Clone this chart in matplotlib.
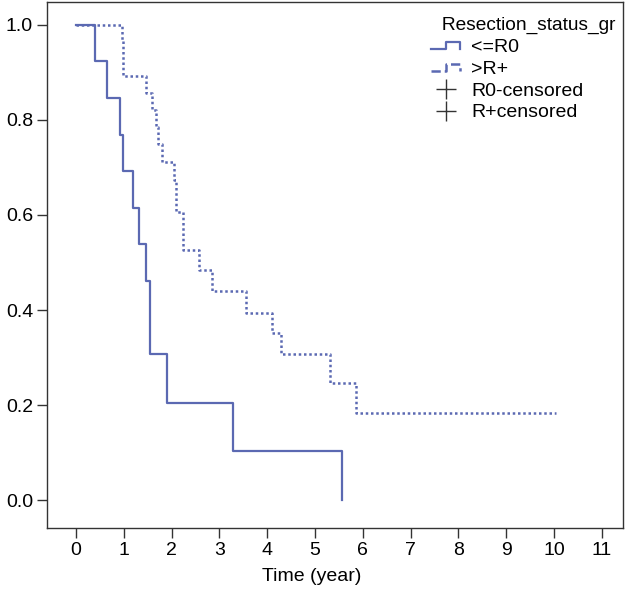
import matplotlib
matplotlib.use("Agg")
import matplotlib.pyplot as plt
from matplotlib.lines import Line2D
from matplotlib.legend_handler import HandlerBase

# Kaplan-Meier steps
t_r0 = [0, 0.40, 0.64, 0.92, 0.98, 1.19, 1.32, 1.46, 1.55, 1.90, 3.29, 5.57]
s_r0 = [1.0, 0.923, 0.846, 0.769, 0.692, 0.615, 0.538, 0.462, 0.308, 0.205, 0.103, 0.0]

t_rp = [0, 0.955, 0.99, 1.46, 1.60, 1.67, 1.72, 1.79, 2.04, 2.10, 2.24, 2.58,
        2.84, 3.55, 4.09, 4.28, 5.31, 5.86, 10.04]
s_rp = [1.0, 0.966, 0.893, 0.857, 0.821, 0.786, 0.75, 0.712, 0.674, 0.607, 0.526,
        0.484, 0.441, 0.394, 0.352, 0.307, 0.246, 0.184, 0.184]

xticks = list(range(0, 12))
yticks = [0.0, 0.2, 0.4, 0.6, 0.8, 1.0]
labels = ["<=R0", ">R+", "R0-censored", "R+censored"]

col = "#5b69b2"
dark = "#333333"
plt.rcParams["font.family"] = ["Liberation Sans", "DejaVu Sans"]
plt.rcParams["font.size"] = 14


class StepHandler(HandlerBase):
    # little step glyph like the R legend
    def create_artists(self, legend, orig, xd, yd, w, h, fs, trans):
        xs = [xd, xd + 0.5 * w, xd + 0.5 * w, xd + w, xd + w]
        ys = [yd + 0.2 * h, yd + 0.2 * h, yd + 0.7 * h, yd + 0.7 * h, yd + 0.2 * h]
        ln = Line2D(xs, ys, color=orig.get_color(), lw=orig.get_linewidth(),
                    linestyle=orig.get_linestyle(), transform=trans)
        return [ln]


fig = plt.figure(figsize=(6.28, 5.93), dpi=100)
ax = fig.add_axes([0.0748, 0.110, 0.917, 0.8866])

l1, = ax.step(t_r0, s_r0, where="post", color=col, lw=1.6)
l2, = ax.step(t_rp, s_rp, where="post", color=col, lw=1.8, linestyle=(0, (1.0, 1.1)))
c1 = Line2D([], [], color=dark, marker="+", markersize=14, linestyle="none", mew=1.0)
c2 = Line2D([], [], color=dark, marker="+", markersize=14, linestyle="none", mew=1.0)

ax.set_xlim(-0.607, 11.44)
ax.set_ylim(-0.058, 1.048)
ax.set_xticks(xticks)
ax.set_yticks(yticks)
ax.set_yticklabels(["%.1f" % v for v in yticks])
ax.tick_params(direction="out", length=7, width=1, color=dark, pad=3)
for sp in ax.spines.values():
    sp.set_color(dark)
    sp.set_linewidth(1)
ax.set_xlabel("Time (year)")
ax.xaxis.set_label_coords(0.46, -0.077)

leg = ax.legend([l1, l2, c1, c2], labels, title="  Resection_status_gr",
                loc="upper left", bbox_to_anchor=(0.644, 0.998), frameon=False,
                borderpad=0.2, handlelength=1.45, handletextpad=0.6,
                labelspacing=0.22, alignment="left",
                handler_map={l1: StepHandler(), l2: StepHandler()})
leg.get_title().set_fontsize(13.8)

fig.savefig("out.png", dpi=100)
